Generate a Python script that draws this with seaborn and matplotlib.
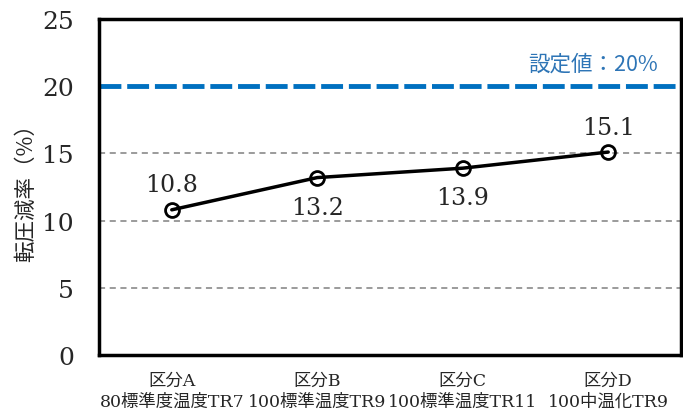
import matplotlib
matplotlib.use("Agg")
import matplotlib.pyplot as plt
import seaborn as sns
import pandas as pd

categories = ["区分A\n80標準度温度TR7", "区分B\n100標準温度TR9",
              "区分C\n100標準温度TR11", "区分D\n100中温化TR9"]
values = [10.8, 13.2, 13.9, 15.1]
target = 20
target_label = "設定値：20%"
y_ticks = [0, 5, 10, 15, 20, 25]
label_side = ["above", "below", "below", "above"]

sns.set_style("white")
plt.rcParams["font.family"] = ["DejaVu Serif", "Noto Sans CJK JP"]

fig = plt.figure(figsize=(6.83, 4.10), dpi=100)
ax = fig.add_axes([0.145, 0.132, 0.852, 0.819])

df = pd.DataFrame({"cat": categories, "val": values, "x": range(len(values))})

for y in [5, 10, 15]:
    ax.axhline(y, color="#808080", lw=1.1, ls=(0, (4, 3)), zorder=1)
ax.axhline(target, color="#0070C0", lw=3.5, ls=(0, (4.5, 1.2)), zorder=2)
ax.text(3.34, target + 0.85, target_label, color="#2E75B6", fontsize=15.5,
        ha="right", va="bottom", family=["Noto Sans CJK JP", "DejaVu Sans"])

sns.lineplot(data=df, x="x", y="val", ax=ax, color="black", lw=2.5,
             marker="o", markersize=10, markerfacecolor="none",
             markeredgecolor="black", markeredgewidth=2, zorder=3)

for i, (v, side) in enumerate(zip(values, label_side)):
    off = 1.85 if side == "above" else -2.2
    ax.text(i, v + off, f"{v:.1f}", ha="center", va="center", fontsize=17)

ax.set_xlim(-0.5, 3.5)
ax.set_ylim(0, 25)
ax.set_yticks(y_ticks)
ax.set_xticks(range(len(categories)))
ax.set_xticklabels(categories, fontsize=12.5, linespacing=1.3)
ax.tick_params(axis="y", labelsize=18, pad=18, length=0)
ax.tick_params(axis="x", pad=12, length=0)
ax.set_xlabel("")
ax.set_ylabel("転圧減率（%）", fontsize=15.5, family=["Noto Sans CJK JP", "DejaVu Sans"],
              labelpad=4)
for s in ax.spines.values():
    s.set_visible(True)
    s.set_color("black")
    s.set_linewidth(2.5)

fig.savefig("out.png", dpi=100)
